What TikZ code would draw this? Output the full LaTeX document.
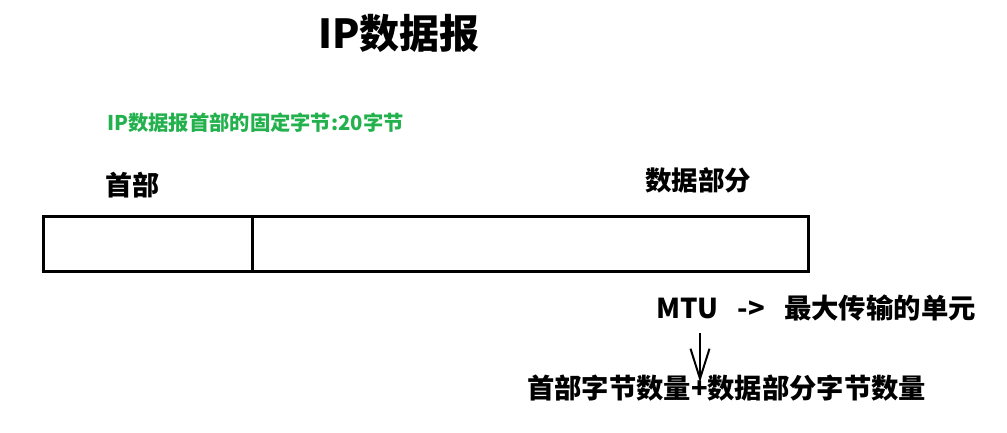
\documentclass[tikz,border=0pt]{standalone}
\usepackage{fontspec}
\setmainfont{Noto Sans CJK SC}
\usetikzlibrary{arrows.meta}
\definecolor{pgreen}{RGB}{34,177,76}
\tikzset{
  lbl/.style={inner sep=0pt, font=\bfseries\fontsize{#1}{#1}\selectfont},
  boxline/.style={line width=3pt, draw=black},
}
\begin{document}
\begin{tikzpicture}[x=1pt,y=-1pt]
\useasboundingbox (0,0) rectangle (1007,433);
\node[lbl=40, anchor=center] (title) at (399,33) {IP数据报};
\node[lbl=20.3, text=pgreen, anchor=west] (note) at (107,123) {IP数据报首部的固定字节:20字节};
\node[lbl=27, anchor=west] (hdr) at (105,185) {首部};
\node[lbl=26.5, anchor=west] (data) at (645,180) {数据部分};
\draw[boxline] (43.5,216.5) rectangle (808.5,271.5);
\node[inner sep=0pt, minimum width=209pt, minimum height=55pt, anchor=north west] (hbox) at (43.5,216.5) {};
\draw[boxline] (252.5,216.5) -- (252.5,271.5);
\node[lbl=27.4, anchor=west] (mtu) at (656,308) {MTU\hspace{0.7em}->\hspace{0.7em}最大传输的单元};
\node[lbl=27.3, anchor=west] (sum) at (527,388) {首部字节数量+数据部分字节数量};
\coordinate (a0) at (700,333);
\coordinate (a1) at (700,382);
\draw[line width=2pt, -{Straight Barb[length=30pt,width=19pt,line width=2pt]}] (a0) -- (a1);
\end{tikzpicture}
\end{document}
